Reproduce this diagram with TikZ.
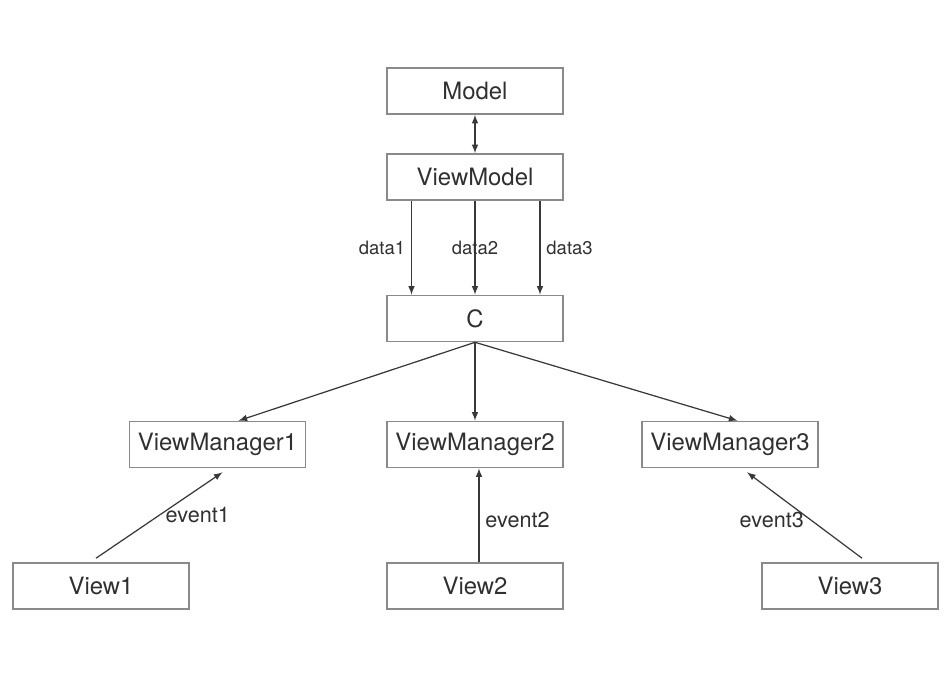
\documentclass[tikz,border=0pt]{standalone}
\usepackage{fontspec}
\setmainfont{TeX Gyre Heros}
\definecolor{boxgray}{HTML}{8A8A8A}
\definecolor{linegray}{HTML}{383838}
\definecolor{textgray}{HTML}{303030}
\begin{document}
\begin{tikzpicture}[
  box/.style={draw=boxgray, line width=0.9pt, minimum width=3.52cm, minimum height=0.92cm, inner sep=0pt, text=textgray, font=\fontsize{13.6}{15}\selectfont},
  link/.style={draw=linegray, line width=0.7pt},
  lbl/.style={text=textgray, font=\fontsize{12.3}{14}\selectfont},
  dlbl/.style={text=textgray, font=\fontsize{10.5}{12}\selectfont}]
\useasboundingbox (0,0) rectangle (19,13.54);
\node[box] (M) at (9.5,11.72) {Model};
\node[box] (VMod) at (9.5,10.0) {ViewModel};
\node[box] (C) at (9.5,7.17) {C};
\node[box] (VM1) at (4.35,4.65) {ViewManager1};
\node[box] (VM2) at (9.5,4.65) {ViewManager2};
\node[box] (VM3) at (14.6,4.65) {ViewManager3};
\node[box] (V1) at (2.02,1.82) {View1};
\node[box] (V2) at (9.5,1.82) {View2};
\node[box] (V3) at (17.0,1.82) {View3};
\draw [link, latex-latex] (M) -- (VMod);
\draw [link, -latex] ([xshift=-1.27cm]VMod.south) -- node[pos=0.5, left, dlbl] {data1} ([xshift=-1.27cm]C.north);
\draw [link, -latex] (VMod) -- node[pos=0.5, dlbl] {data2} (C);
\draw [link, -latex] ([xshift=1.3cm]VMod.south) -- node[pos=0.5, right, dlbl] {data3} ([xshift=1.3cm]C.north);
\draw [link, -latex] (C.south) -- ([xshift=0.42cm]VM1.north);
\draw [link, -latex] (C.south) -- (VM2.north);
\draw [link, -latex] (C.south) -- ([xshift=0.15cm]VM3.north);
\draw [link, -latex] ([xshift=-0.1cm, yshift=0.08cm]V1.north) -- node[pos=0.5, right, lbl] {event1} ([xshift=0.1cm, yshift=-0.08cm]VM1.south);
\draw [link, -latex] ([xshift=0.08cm]V2.north) -- node[pos=0.45, right, lbl] {event2} ([xshift=0.08cm]VM2.south);
\draw [link, -latex] ([xshift=0.24cm, yshift=0.08cm]V3.north) -- node[pos=0.45, left, lbl] {event3} ([xshift=0.34cm, yshift=-0.08cm]VM3.south);
\end{tikzpicture}
\end{document}
